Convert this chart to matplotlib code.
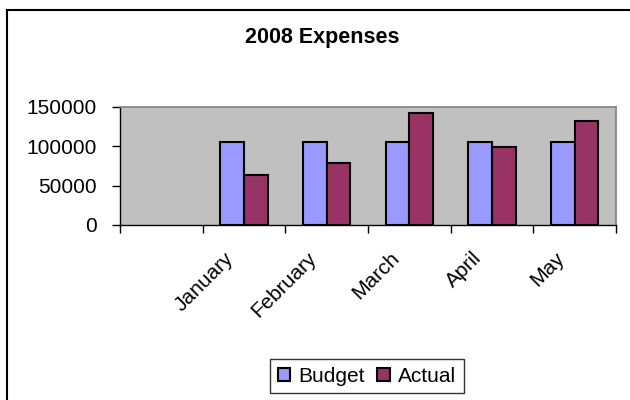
import matplotlib
matplotlib.use("Agg")
import matplotlib.pyplot as plt
from matplotlib.patches import Rectangle
import numpy as np

categories = ["", "January", "February", "March", "April", "May"]
budget = [np.nan, 106000, 106000, 106000, 106000, 106000]
actual = [np.nan, 63000, 78500, 142000, 99000, 132000]
yticks = [0, 50000, 100000, 150000]

plt.rcParams['font.family'] = ['Liberation Sans', 'DejaVu Sans']

W, H = 630, 400
fig = plt.figure(figsize=(W/100, H/100), dpi=100)

# outer chart frame
fig.patches.append(Rectangle((7/W, 0 - 0.01), 1.0, (H - 10)/H + 0.01, transform=fig.transFigure,
                             fill=False, edgecolor='black', linewidth=1.5))

ax = fig.add_axes([120/W, 1 - 225/H, (616-120)/W, (225-107)/H])
ax.set_facecolor('#C0C0C0')
x = np.arange(len(categories))
bw = 0.285
ax.bar(x - bw/2, budget, bw, color='#9999FF', edgecolor='black', linewidth=1.5, label='Budget')
ax.bar(x + bw/2, actual, bw, color='#993366', edgecolor='black', linewidth=1.5, label='Actual')

ax.set_xlim(-0.5, len(categories) - 0.5)
ax.set_ylim(0, 150000)
ax.set_yticks(yticks)
ax.set_yticklabels([str(v) for v in yticks], fontsize=15)
ax.tick_params(axis='y', length=6, width=1, direction='out', pad=11)

ax.set_xticks(np.arange(len(categories) + 1) - 0.5)
ax.set_xticklabels([])
ax.tick_params(axis='x', length=6, width=1, direction='out')
for i, c in enumerate(categories):
    if c:
        ax.text(i - 0.24, -0.2, c, transform=ax.get_xaxis_transform(), rotation=45,
                ha='right', va='top', rotation_mode='anchor', fontsize=15)

for s in ['top', 'right']:
    ax.spines[s].set_color('#808080')
    ax.spines[s].set_linewidth(1.2)
for s in ['left', 'bottom']:
    ax.spines[s].set_color('black')
    ax.spines[s].set_linewidth(1)

fig.text(322/W, 1 - 37/H, "2008 Expenses", ha='center', va='center', fontsize=15.5, fontweight='bold')

leg = fig.legend(loc='center', bbox_to_anchor=(367/W, 1 - 376/H), ncol=2, fontsize=15,
                 frameon=True, fancybox=False, edgecolor='black', handlelength=0.6,
                 handleheight=0.6, handletextpad=0.4, columnspacing=0.6, borderpad=0.35)
leg.get_frame().set_linewidth(1)

fig.savefig("out.png", dpi=100)
